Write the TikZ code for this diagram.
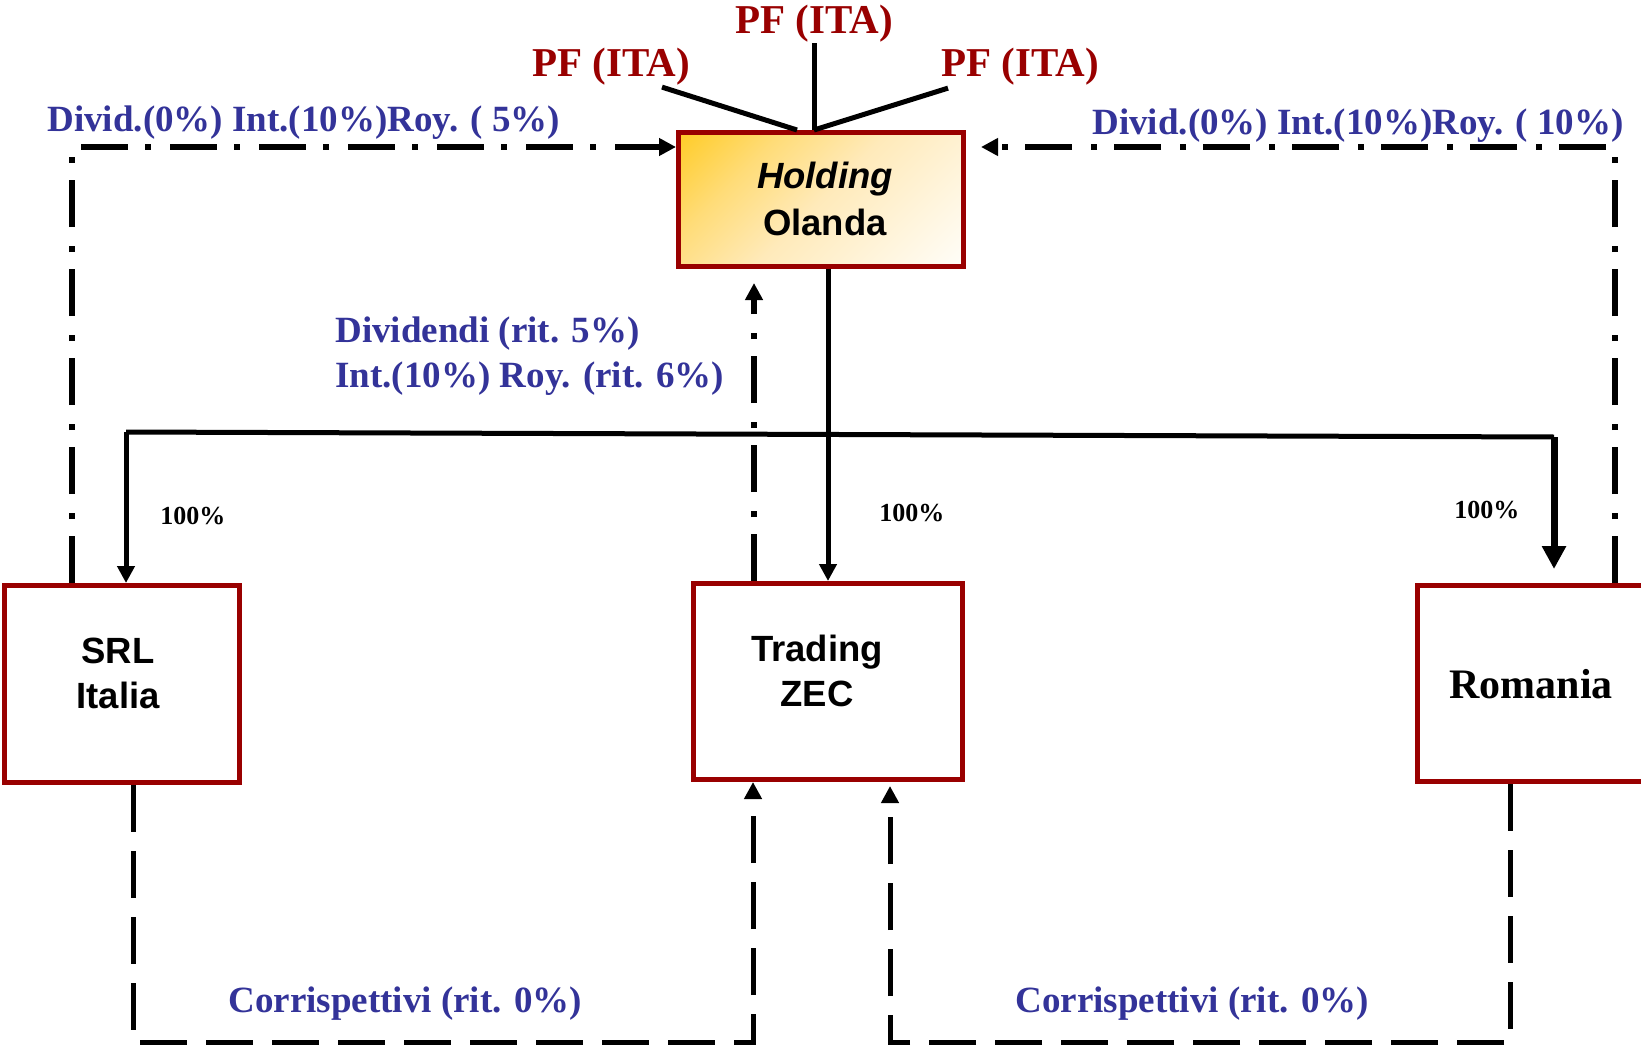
\documentclass[tikz,border=0pt]{standalone}
\usepackage{fontspec}
\setmainfont{Liberation Serif}
\setsansfont{Liberation Sans}
\usetikzlibrary{arrows.meta,calc}
\definecolor{pfred}{RGB}{153,0,0}
\definecolor{boxred}{RGB}{153,0,0}
\definecolor{flowblue}{RGB}{51,51,153}
\definecolor{holdgold}{RGB}{255,204,40}
\definecolor{holdamber}{RGB}{255,220,120}
\definecolor{holdpeach}{RGB}{255,234,186}
\definecolor{holdcream}{RGB}{255,254,250}
% diagonal gold-to-cream fill of the holding box
\pgfdeclarehorizontalshading{holdshade}{100bp}{%
  color(0bp)=(holdgold); color(15bp)=(holdgold); color(32bp)=(holdamber);
  color(50bp)=(holdpeach); color(86bp)=(holdcream); color(100bp)=(holdcream)}

\begin{document}
\begin{tikzpicture}[x=0.5pt,y=-0.5pt,
  pf/.style={text=pfred, font=\bfseries\fontsize{20.5pt}{24pt}\selectfont, inner sep=0pt, anchor=base},
  flow/.style={text=flowblue, font=\bfseries\fontsize{18.5pt}{22pt}\selectfont, inner sep=0pt, anchor=base west},
  share/.style={font=\bfseries\fontsize{13pt}{15pt}\selectfont, inner sep=0pt, anchor=base west},
  entity/.style={draw=boxred, line width=2.5pt, fill=white, inner sep=0pt},
  entitytext/.style={font=\sffamily\bfseries\fontsize{18.25pt}{22.5pt}\selectfont, align=center, inner sep=0pt},
  owner/.style={line width=2.5pt},
  tip/.style={-{Triangle[length=8.5pt,width=8.5pt]}},
  bigtip/.style={-{Triangle[length=11.5pt,width=11.5pt]}},
  divflow/.style={line width=2.75pt, dash pattern=on 23.5pt off 8.5pt on 3pt off 9.5pt, tip},
  fee/.style={line width=2.5pt, dash pattern=on 23.5pt off 9.5pt, tip}
]
% canvas
\fill[white] (0,0) rectangle (1641,1048);
\useasboundingbox (0,0) rectangle (1641,1048);
\clip (0,0) rectangle (1641,1048);

% entities
\node[entity, minimum width=142.5pt, minimum height=67pt,
      shading=holdshade, shading angle=-45] (holding) at (821,199.5) {};
\node[entitytext, font=\sffamily\bfseries\fontsize{18.25pt}{23.5pt}\selectfont] (holding-t) at (825,199) {\textit{Holding}\\Olanda};

\node[entity, minimum width=117.5pt, minimum height=98.5pt] (srl) at (122,684) {};
\node[entitytext] (srl-t) at (118,673) {SRL\\Italia};

\node[entity, minimum width=134.5pt, minimum height=98pt] (trading) at (828,681.5) {};
\node[entitytext] (trading-t) at (817,671) {Trading\\ZEC};

\node[entity, minimum width=117.5pt, minimum height=98pt] (romania) at (1535,683.5) {};
\node[font=\bfseries\fontsize{21pt}{25pt}\selectfont, inner sep=0pt, anchor=base] (romania-t) at (1531,698) {Romania};

% shareholders
\node[pf] (pftop) at (814,34) {PF (ITA)};
\node[pf] (pfl) at (611,77) {PF (ITA)};
\node[pf] (pfr) at (1020,77) {PF (ITA)};

\draw[owner] (pftop.south) -- (pftop.south |- holding.north);
\draw[owner] ($(pfl.south)+(51,1)$) -- ($(holding.north)+(-24,0)$);
\draw[owner] ($(pfr.south)+(-72,2)$) -- ($(holding.north)+(-7,0)$);

% ownership tree
\coordinate (jl) at (126,432);
\coordinate (jr) at (1554,437);
\draw[owner, tip] (trading.north |- holding.south) -- (trading.north);
\draw[owner] (jl) -- (jr);
\draw[owner, tip] (jl) -- (jl |- srl.north);
\draw[line width=3.5pt, bigtip] (jr) -- ([yshift=7pt]jr |- romania.north);

\node[share] (pc1) at (160,524) {100\%};
\node[share] (pc2) at (879,521) {100\%};
\node[share] (pc3) at (1454,518) {100\%};

% dividend / interest / royalty flows
\coordinate (dl) at (72,147);
\coordinate (dr) at (1615,147);
\coordinate (dm) at (754,0);
\draw[divflow] (dl |- srl.north) -- (dl) -- (dl -| holding.west);
\draw[divflow] (dr |- romania.north) -- (dr) -- ([xshift=7.5pt]dr -| holding.east);
\draw[divflow] (dm |- trading.north) -- ([yshift=-7pt]dm |- holding.south);

\node[flow] (divl) at (47,132) {Divid.(0\%) Int.(10\%)Roy. ( 5\%)};
\node[flow] (divr) at (1092,135) {Divid.(0\%) Int.(10\%)Roy. ( 10\%)};
\node[flow] (dv1) at (335,342) {Dividendi (rit. 5\%)};
\node[flow] (dv2) at (335,387) {Int.(10\%) Roy. (rit. 6\%)};

% service fees
\coordinate (cl) at (133,1042);
\coordinate (cm1) at (753,1042);
\coordinate (cm2) at (890,1042);
\coordinate (cr) at (1510,1042);
\draw[fee] (cl |- srl.south) -- (cl) -- (cm1) -- (cm1 |- trading.south);
\draw[fee] (cr |- romania.south) -- (cr) -- (cm2) -- ([yshift=-2pt]cm2 |- trading.south);

\node[flow] (fee1) at (228,1012) {Corrispettivi (rit. 0\%)};
\node[flow] (fee2) at (1015,1012) {Corrispettivi (rit. 0\%)};
\end{tikzpicture}
\end{document}
